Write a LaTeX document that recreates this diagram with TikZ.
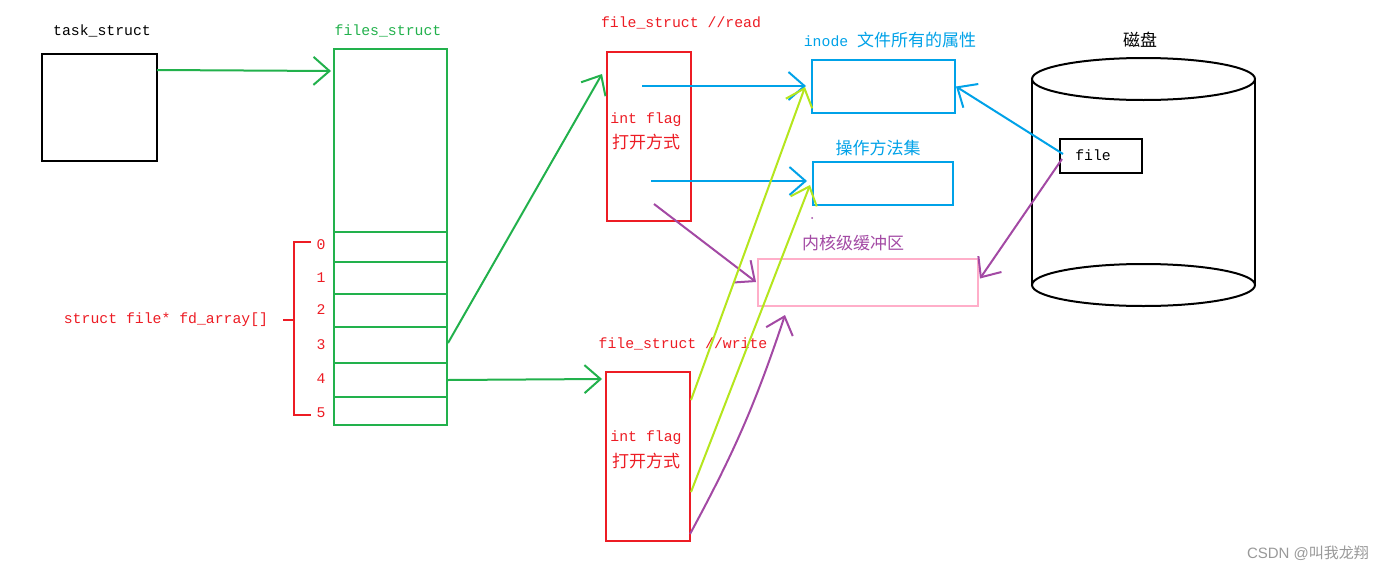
\documentclass[tikz,border=0pt]{standalone}
\usepackage{fontspec}
\setmainfont{Liberation Mono}
\newfontfamily\cjk{Noto Sans CJK SC}
\newfontfamily\wmfont{Liberation Sans}
\usetikzlibrary{arrows.meta,calc}
\definecolor{pgreen}{HTML}{22B14C}
\definecolor{pred}{HTML}{ED1C24}
\definecolor{pblue}{HTML}{00A2E8}
\definecolor{ppurple}{HTML}{A349A4}
\definecolor{plime}{HTML}{B5E61D}
\definecolor{ppink}{HTML}{FFAEC9}
\newcommand{\lat}{\fontsize{14.8}{17}\selectfont}
\newcommand{\zh}{\cjk\fontsize{17}{20}\selectfont}
\begin{document}
\begin{tikzpicture}[x=1pt,y=-1pt,
  box/.style={draw,line width=2pt,inner sep=0pt,anchor=north west},
  lbl/.style={inner sep=0pt,font=\lat},
  arr/.style={line width=2pt,-{Straight Barb[length=16pt,width=28pt,line width=2pt]}},
  ln/.style={line width=2pt}]
\useasboundingbox (0,0) rectangle (1389,573);
\fill[white] (0,0) rectangle (1389,573);

% task_struct
\node[box,minimum width=115pt,minimum height=107pt] (task) at (41,53) {};
\node[lbl] (tasklbl) at (102,31) {task\_struct};

% files_struct
\node[box,draw=pgreen,minimum width=113pt,minimum height=183pt] (files) at (333,48) {};
\node[lbl,text=pgreen] (fileslbl) at (388,31) {files\_struct};
\node[box,draw=pgreen,minimum width=113pt,minimum height=30pt] (s0) at (333,231) {};
\node[box,draw=pgreen,minimum width=113pt,minimum height=32pt] (s1) at (333,261) {};
\node[box,draw=pgreen,minimum width=113pt,minimum height=33pt] (s2) at (333,293) {};
\node[box,draw=pgreen,minimum width=113pt,minimum height=36pt] (s3) at (333,326) {};
\node[box,draw=pgreen,minimum width=113pt,minimum height=34pt] (s4) at (333,362) {};
\node[box,draw=pgreen,minimum width=113pt,minimum height=28pt] (s5) at (333,396) {};

% fd_array bracket
\coordinate (btop) at (311,242);
\coordinate (bbot) at (311,415);
\draw[pred,ln] (btop) -- (294,242) -- (294,415) -- (bbot);
\node[lbl,text=pred] (fdlbl) at (166,320) {struct file* fd\_array[]};
\draw[pred,ln] (283,320) -- (294,320);
\foreach \n/\y in {0/245,1/278,2/310,3/345,4/379,5/413}
  \node[lbl,text=pred] (n\n) at (321,\y) {\n};

% file_struct read
\node[box,draw=pred,minimum width=84pt,minimum height=169pt] (rd) at (606,51) {};
\node[lbl,text=pred] (rdlbl) at (681,23) {file\_struct //read};
\node[lbl,text=pred] (rdt1) at (646,120) {int flag};
\node[lbl,text=pred,font=\zh] (rdt2) at (646,142) {打开方式};

% file_struct write
\node[box,draw=pred,minimum width=84pt,minimum height=169pt] (wr) at (605,371) {};
\node[lbl,text=pred] (wrlbl) at (683,344) {file\_struct //write};
\node[lbl,text=pred] (wrt1) at (646,438) {int flag};
\node[lbl,text=pred,font=\zh] (wrt2) at (646,461) {打开方式};

% inode
\node[box,draw=pblue,minimum width=143pt,minimum height=53pt] (inode) at (811,59) {};
\node[lbl,text=pblue] (inodelbl) at (890,40) {inode {\zh 文件所有的属性}};
% ops
\node[box,draw=pblue,minimum width=140pt,minimum height=43pt] (ops) at (812,161) {};
\node[lbl,text=pblue,font=\zh] (opslbl) at (878,148) {操作方法集};
\fill[ppurple] (812,218) circle (1pt);
% buffer
\node[box,draw=ppink,minimum width=220pt,minimum height=47pt] (buf) at (757,258) {};
\node[lbl,text=ppurple,font=\zh] (buflbl) at (853,243) {内核级缓冲区};

% disk
\coordinate (disk) at (1143.5,79);
\draw[ln] (1143.5,79) ellipse (111.5 and 21);
\draw[ln] (1032,79) -- (1032,285);
\draw[ln] (1255,79) -- (1255,285);
\draw[ln] (1143.5,285) ellipse (111.5 and 21);
\node[lbl,font=\zh] (disklbl) at (1140,40) {磁盘};
\node[box,minimum width=82pt,minimum height=34pt] (file) at (1059,138) {};
\node[lbl] (filet) at (1093,155) {file};

% watermark
\node[inner sep=0pt,text=black!40,font=\wmfont\fontsize{15}{17}\selectfont] (wm) at (1308,553) {CSDN @{\cjk 叫我龙翔}};

% connectors
\draw[arr,pgreen] ($(task.north east)+(-1,17)$) -- ($(files.north west)+(-2,23)$);
\draw[arr,pgreen] ($(s3.east)+(0,-2)$) -- ($(rd.north west)+(-4,23)$);
\draw[arr,pgreen] ($(s4.east)+(0,0)$) -- ($(wr.north west)+(-3,8)$);

\draw[arr,pblue] ($(rd.north west)+(36,35)$) -- ($(inode.north west)+(-5,27)$);
\draw[arr,pblue] ($(rd.north west)+(45,130)$) -- ($(ops.north west)+(-5,20)$);
\draw[arr,ppurple] ($(rd.north west)+(48,153)$) -- ($(buf.north west)+(-1,24)$);

\draw[arr,plime] ($(wr.north east)+(0,29)$) -- ($(inode.north west)+(-6,28)$);
\draw[arr,plime] ($(wr.north east)+(0,121)$) -- ($(ops.north west)+(-2,24)$);
\draw[arr,ppurple] ($(wr.south east)+(-1,-8)$) to[bend right=5] ($(buf.south west)+(28,8)$);

\draw[arr,pblue] ($(file.west)+(4,-2)$) -- (inode.east);
\draw[arr,ppurple] ($(file.west)+(3,3)$) -- ($(buf.east)+(1,-4)$);
\end{tikzpicture}
\end{document}
